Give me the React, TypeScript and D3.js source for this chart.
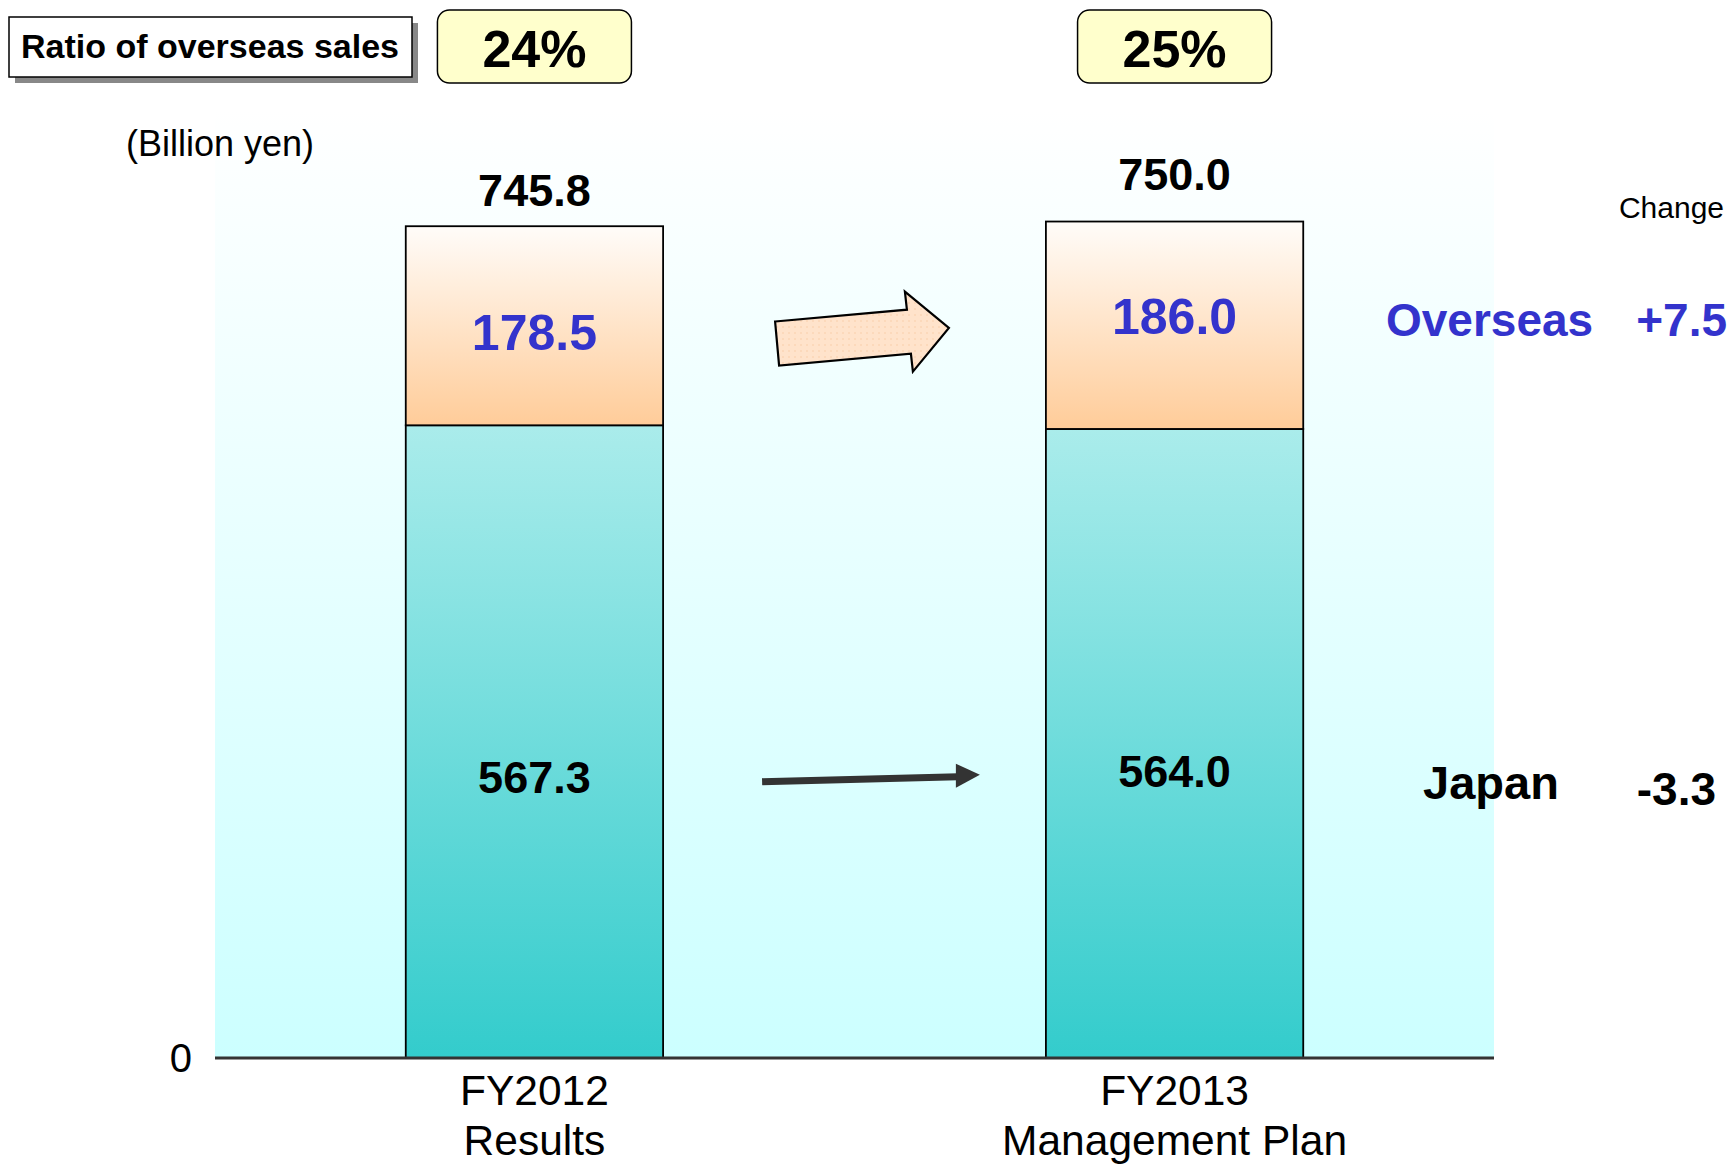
import React from "react";
import * as d3 from "d3";

const categories = ["FY2012", "FY2013"];
const categorySubLabels = ["Results", "Management Plan"];
const japanValues = [567.3, 564.0];
const overseasValues = [178.5, 186.0];
const ratioLabels = ["24%", "25%"];
const yTicks = [0];

const W = 1733;
const H = 1164;
const FONT = "'Liberation Sans', Arial, sans-serif";
const BLUE = "#3333cc";

export default function App() {
  const x = d3
    .scaleBand<string>()
    .domain(categories)
    .range([215, 1494])
    .paddingInner(0.598)
    .paddingOuter(0.298);
  const y = d3.scaleLinear().domain([0, 850]).range([1058, 110]);
  const bw = x.bandwidth();
  const totals = japanValues.map((v, i) => v + overseasValues[i]);
  const fmt = (v: number) => (v < 0 ? "-" : "") + d3.format(".1f")(Math.abs(v));
  const overseasChange = overseasValues[1] - overseasValues[0];
  const japanChange = japanValues[1] - japanValues[0];

  const x0 = x(categories[0])!;
  const x1 = x(categories[1])!;

  // Block arrow (overseas) between the bars
  const aStart = x0 + bw + 112;
  const aEnd = x1 - 97;
  const aMidY = (y(japanValues[0] + overseasValues[0] / 2) + y(japanValues[1] + overseasValues[1] / 2)) / 2 + 18;
  const slope = -0.09;
  const shaftH = 44;
  const headX = aEnd - 42;
  const yAt = (xx: number) => aMidY + (xx - aStart) * slope;
  const blockArrow = [
    [aStart, yAt(aStart) - shaftH / 2],
    [headX, yAt(headX) - shaftH / 2],
    [headX - 2, yAt(headX) - 40],
    [aEnd, yAt(aEnd)],
    [headX + 6, yAt(headX) + 40],
    [headX + 4, yAt(headX) + shaftH / 2],
    [aStart + 4, yAt(aStart) + shaftH / 2],
  ];

  // Thin arrow (Japan)
  const jStart = x0 + bw + 99;
  const jEnd = x1 - 66;
  const jY0 = y(japanValues[0] / 2) + 40;
  const jY1 = jY0 - 6;

  return (
    <svg
      width={W}
      height={H}
      style={{ position: "absolute", left: 0, top: 0, background: "#ffffff" }}
      fontFamily={FONT}
    >
      <defs>
        <linearGradient id="bgGrad" x1="0" y1="0" x2="0" y2="1">
          <stop offset="0" stopColor="#ffffff" />
          <stop offset="1" stopColor="#ccffff" />
        </linearGradient>
        <linearGradient id="japanGrad" x1="0" y1="0" x2="0" y2="1">
          <stop offset="0" stopColor="#aaeceb" />
          <stop offset="1" stopColor="#33cccc" />
        </linearGradient>
        <linearGradient id="overseasGrad" x1="0" y1="0" x2="0" y2="1">
          <stop offset="0" stopColor="#fffcf9" />
          <stop offset="1" stopColor="#ffcc99" />
        </linearGradient>
        <pattern id="dots" width="6" height="6" patternUnits="userSpaceOnUse">
          <rect width="6" height="6" fill="#ffe3cb" />
          <circle cx="3" cy="3" r="0.7" fill="#f7c9a0" />
        </pattern>
      </defs>

      {/* plot background */}
      <rect x={215} y={y(850)} width={1494 - 215} height={y(0) - y(850)} fill="url(#bgGrad)" />

      {/* bars */}
      {categories.map((c, i) => (
        <g key={c}>
          <rect
            x={x(c)}
            y={y(japanValues[i])}
            width={bw}
            height={y(0) - y(japanValues[i])}
            fill="url(#japanGrad)"
            stroke="#000"
            strokeWidth={1.8}
          />
          <rect
            x={x(c)}
            y={y(totals[i])}
            width={bw}
            height={y(japanValues[i]) - y(totals[i])}
            fill="url(#overseasGrad)"
            stroke="#000"
            strokeWidth={1.8}
          />
          <text
            x={x(c)! + bw / 2}
            y={y(totals[i]) - (i === 0 ? 36 : 47)}
            textAnchor="middle"
            dominantBaseline="central"
            fontSize={45}
            fontWeight="bold"
          >
            {fmt(totals[i])}
          </text>
          <text
            x={x(c)! + bw / 2}
            y={y(japanValues[i] + overseasValues[i] / 2) + (i === 0 ? 7 : -8)}
            textAnchor="middle"
            dominantBaseline="central"
            fontSize={50}
            fontWeight="bold"
            fill={BLUE}
          >
            {fmt(overseasValues[i])}
          </text>
          <text
            x={x(c)! + bw / 2}
            y={y(japanValues[i] / 2) + (i === 0 ? 36 : 28)}
            textAnchor="middle"
            dominantBaseline="central"
            fontSize={45}
            fontWeight="bold"
          >
            {fmt(japanValues[i])}
          </text>
          {/* category labels */}
          <text
            x={x(c)! + bw / 2}
            y={1090}
            textAnchor="middle"
            dominantBaseline="central"
            fontSize={42.5}
          >
            {c}
          </text>
          <text
            x={x(c)! + bw / 2}
            y={1140}
            textAnchor="middle"
            dominantBaseline="central"
            fontSize={42.5}
          >
            {categorySubLabels[i]}
          </text>
          {/* ratio box */}
          <rect
            x={x(c)! + bw / 2 - 97}
            y={10}
            width={194}
            height={73}
            rx={12}
            fill="#ffffcc"
            stroke="#000"
            strokeWidth={1.5}
          />
          <text
            x={x(c)! + bw / 2}
            y={49}
            textAnchor="middle"
            dominantBaseline="central"
            fontSize={52}
            fontWeight="bold"
          >
            {ratioLabels[i]}
          </text>
        </g>
      ))}

      {/* axis */}
      <line x1={215} x2={1494} y1={y(0)} y2={y(0)} stroke="#333" strokeWidth={3} />
      {yTicks.map((t) => (
        <text
          key={t}
          x={192}
          y={y(t)}
          textAnchor="end"
          dominantBaseline="central"
          fontSize={40}
        >
          {t}
        </text>
      ))}

      {/* arrows */}
      <polygon
        points={blockArrow.map((p) => p.join(",")).join(" ")}
        fill="url(#dots)"
        stroke="#000"
        strokeWidth={2.2}
        strokeLinejoin="miter"
      />
      <line x1={jStart} y1={jY0} x2={jEnd - 22} y2={jY1 + 1} stroke="#333" strokeWidth={7} />
      <polygon
        points={`${jEnd - 24},${jY1 - 12} ${jEnd},${jY1 - 1} ${jEnd - 24},${jY1 + 12}`}
        fill="#333"
      />

      {/* header box */}
      <rect x={15} y={23} width={403} height={60} fill="#888" />
      <rect x={9} y={17} width={403} height={60} fill="#fff" stroke="#000" strokeWidth={1.5} />
      <text x={210} y={46} textAnchor="middle" dominantBaseline="central" fontSize={34} fontWeight="bold">
        Ratio of overseas sales
      </text>

      <text x={220} y={143} textAnchor="middle" dominantBaseline="central" fontSize={36}>
        (Billion yen)
      </text>

      {/* change annotations */}
      <text x={1724} y={207} textAnchor="end" dominantBaseline="central" fontSize={30}>
        Change
      </text>
      <text x={1386} y={320} dominantBaseline="central" fontSize={46} fontWeight="bold" fill={BLUE}>
        Overseas
      </text>
      <text x={1727} y={320} textAnchor="end" dominantBaseline="central" fontSize={46} fontWeight="bold" fill={BLUE}>
        {(overseasChange >= 0 ? "+" : "") + fmt(overseasChange)}
      </text>
      <text x={1423} y={782} dominantBaseline="central" fontSize={47} fontWeight="bold">
        Japan
      </text>
      <text x={1716} y={789} textAnchor="end" dominantBaseline="central" fontSize={46} fontWeight="bold">
        {(japanChange >= 0 ? "+" : "") + fmt(japanChange)}
      </text>
    </svg>
  );
}
